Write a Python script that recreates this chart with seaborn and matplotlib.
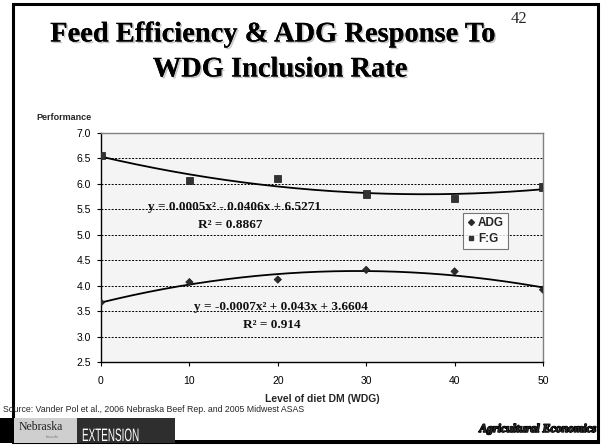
import numpy as np
import pandas as pd
import seaborn as sns
import matplotlib
matplotlib.use("Agg")
import matplotlib.pyplot as plt
import matplotlib.patheffects as pe
from matplotlib.patches import Rectangle, PathPatch
from matplotlib.lines import Line2D
from matplotlib.textpath import TextPath
from matplotlib.font_manager import FontProperties
from matplotlib.transforms import Affine2D

# Level of WDG in diet DM (%)
levels = [0, 10, 20, 30, 40, 50]
# Average daily gain, lb/d
adg = [3.67, 4.07, 4.12, 4.31, 4.28, 3.92]
# Feed:gain ratio
fg = [6.56, 6.07, 6.11, 5.80, 5.71, 5.94]
series_names = ["ADG", "F:G"]
y_ticks = [2.5, 3.0, 3.5, 4.0, 4.5, 5.0, 5.5, 6.0, 6.5, 7.0]
x_ticks = [0, 10, 20, 30, 40, 50]

sns.set_theme(style="white")
plt.rcParams["font.family"] = ["Liberation Sans", "DejaVu Sans"]

df = pd.DataFrame({
    "level": levels * 2,
    "value": adg + fg,
    "series": [series_names[0]] * len(levels) + [series_names[1]] * len(levels),
})

# quadratic trendlines fitted to each series
grid = np.linspace(0, 50, 200)
trend_rows = []
for name, vals in zip(series_names, [adg, fg]):
    coef = np.polyfit(levels, vals, 2)
    trend_rows.append(pd.DataFrame({"level": grid, "value": np.polyval(coef, grid),
                                    "series": name}))
trend = pd.concat(trend_rows)

W, H = 602, 446
fig = plt.figure(figsize=(W / 100, H / 100), dpi=100)
fig.patch.set_facecolor("white")

# slide frame
fig.add_artist(Rectangle((13 / W, 1 - 442 / H), (598 - 13) / W, (442 - 4) / H,
                         transform=fig.transFigure, fill=False,
                         edgecolor="black", linewidth=2.2))

ax = fig.add_axes([101 / W, 1 - 362 / H, 442 / W, 229 / H])
ax.set_facecolor("#f4f4f4")

sns.lineplot(data=trend, x="level", y="value", units="series", estimator=None,
             color="black", linewidth=1.3, ax=ax, legend=False, zorder=3)
sns.scatterplot(data=df, x="level", y="value", style="series",
                markers={"ADG": "D", "F:G": "s"},
                hue="series", palette={"ADG": "#2b2b2b", "F:G": "#333333"},
                size="series", sizes={"ADG": 14, "F:G": 28},
                edgecolor="#1a1a1a", linewidth=0.5,
                ax=ax, legend=False, zorder=4)

ax.set_xlim(0, 50)
ax.set_ylim(2.5, 7.0)
ax.set_xticks(x_ticks)
ax.set_yticks(y_ticks)
ax.set_yticklabels([f"{v:.1f}" for v in y_ticks])
ax.tick_params(axis="both", labelsize=7.5, colors="black", length=3, width=0.8,
               direction="out", pad=4)
ax.tick_params(axis="y", left=True)
ax.tick_params(axis="x", bottom=True, pad=7)
ax.grid(axis="y", color="black", linestyle=(0, (2, 1.5)), linewidth=0.7)
ax.set_axisbelow(True)
for side in ["left", "bottom"]:
    ax.spines[side].set_color("black")
    ax.spines[side].set_linewidth(1.0)
for side in ["top", "right"]:
    ax.spines[side].set_color("#808080")
    ax.spines[side].set_linewidth(1.0)
ax.set_xlabel("Level of diet DM (WDG)", fontsize=7.5, fontweight="bold", labelpad=6)
ax.set_ylabel("")

# legend
handles = [
    Line2D([], [], marker="D", color="#2b2b2b", linestyle="none", markersize=3),
    Line2D([], [], marker="s", color="#333333", linestyle="none", markersize=3.5),
]
leg = ax.legend(handles, series_names, loc="upper left", bbox_to_anchor=(0.82, 0.65),
                frameon=True, fancybox=False, prop={"size": 8.5, "weight": "bold"},
                handlelength=0.5, handletextpad=0.4, borderpad=0.35,
                labelspacing=0.3, borderaxespad=0)
leg.get_frame().set_edgecolor("#555555")
leg.get_frame().set_linewidth(0.8)
leg.get_frame().set_facecolor("white")

# trendline equations
eqf = dict(fontsize=9.5, fontweight="bold", family=["Liberation Serif"], ha="center",
           va="center", color="#111111")
ax.text(15.1, 5.55, "y = 0.0005x² - 0.0406x + 6.5271", **eqf)
ax.text(14.6, 5.19, "R² = 0.8867", **eqf)
ax.text(20.3, 3.58, "y = -0.0007x² + 0.043x + 3.6604", **eqf)
ax.text(19.3, 3.23, "R² = 0.914", **eqf)

fig.text(36 / W, 1 - 118 / H, "Performance", fontsize=6.5, fontweight="bold",
         ha="left", va="center")

# title with a soft drop shadow
shadow = [pe.withSimplePatchShadow(offset=(1.2, -1.2), shadow_rgbFace="#b0b0b0", alpha=0.7),
          pe.Normal()]
tf = dict(fontsize=20.5, fontweight="bold", family=["Liberation Serif"], ha="center",
          va="center", color="black", path_effects=shadow)
fig.text(273 / W, 1 - 35 / H, "Feed Efficiency & ADG Response To", **tf)
fig.text(280 / W, 1 - 70 / H, "WDG Inclusion Rate", **tf)
fig.text(519 / W, 1 - 19 / H, "42", fontsize=12, family=["Liberation Serif"],
         ha="center", va="center")

fig.text(3 / W, 1 - 409 / H, "Source: Vander Pol et al., 2006 Nebraska Beef Rep. and 2005 Midwest ASAS",
         fontsize=6.3, ha="left", va="center")

# footer logos
fig.add_artist(Rectangle((0, 1 - 443 / H), 14 / W, 25 / H, transform=fig.transFigure,
                         facecolor="black", edgecolor="none"))
fig.add_artist(Rectangle((14 / W, 1 - 443 / H), 63 / W, 25 / H, transform=fig.transFigure,
                         facecolor="#cfcfcf", edgecolor="none"))
fig.add_artist(Rectangle((77 / W, 1 - 443 / H), 98 / W, 25 / H, transform=fig.transFigure,
                         facecolor="#2e2e2e", edgecolor="none"))
fig.add_artist(Rectangle((175 / W, 1 - 443 / H), (598 - 175) / W, 3 / H,
                         transform=fig.transFigure, facecolor="black", edgecolor="none"))
fig.text(41 / W, 1 - 427 / H, "Nebraska", fontsize=8.5, family=["Liberation Serif"],
         ha="center", va="center", color="#222222")
fig.text(52 / W, 1 - 437 / H, "Lincoln", fontsize=3, ha="center", va="center", color="#777777")

# condensed "EXTENSION" wordmark (pixel coordinates, origin bottom-left)
ext_path = TextPath((0, 0), "EXTENSION", size=18, prop=FontProperties(family="Liberation Sans"))
ext_tf = Affine2D().scale(0.55, 1.0).translate(82, H - 441)
fig.add_artist(PathPatch(ext_path, transform=ext_tf, facecolor="white",
                         edgecolor="none"))

fig.text(596 / W, 1 - 429 / H, "Agricultural Economics", fontsize=8.5, fontweight="heavy",
         style="italic", family=["Liberation Serif"], ha="right", va="center",
         path_effects=[pe.withStroke(linewidth=1.0, foreground="black")])

fig.savefig("out.png", dpi=100, facecolor="white")
